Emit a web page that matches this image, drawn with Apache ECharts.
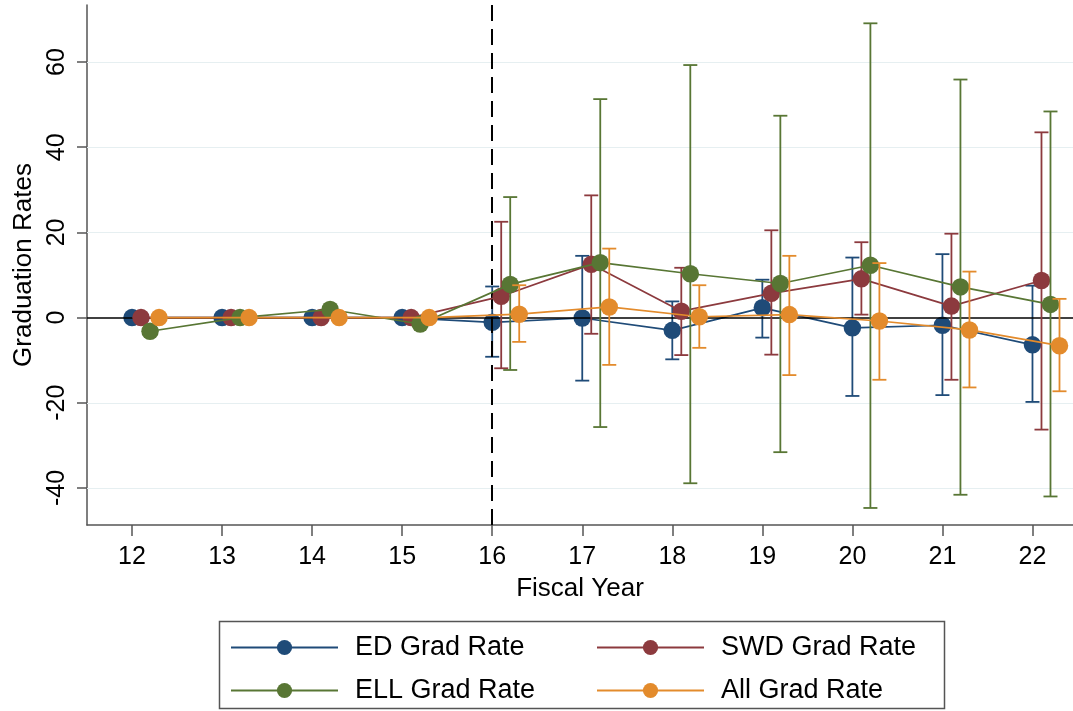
<!DOCTYPE html>
<html>
<head>
<meta charset="utf-8">
<script src="https://cdn.jsdelivr.net/npm/echarts@6/dist/echarts.min.js"></script>
<style>
html,body{margin:0;padding:0;background:#fff;}
#chart{width:1073px;height:711px;}
</style>
</head>
<body>
<div id="chart"></div>
<script>
// ---- data ----
const years = [12, 13, 14, 15, 16, 17, 18, 19, 20, 21, 22];
const yTicks = [-40, -20, 0, 20, 40, 60];
const treatYear = 16;

const edRate  = [0, 0, 0, 0, -1.1, -0.1, -3.0, 2.3, -2.4, -1.8, -6.4];
const edLo    = [null, null, null, null, -9.2, -14.8, -9.8, -4.7, -18.4, -18.2, -19.8];
const edHi    = [null, null, null, null, 7.3, 14.5, 3.8, 8.9, 14.1, 14.9, 7.5];

const swdRate = [0, 0, 0, 0, 5.0, 12.5, 1.5, 5.7, 9.1, 2.7, 8.7];
const swdLo   = [null, null, null, null, -11.9, -3.8, -8.8, -8.7, 0.7, -14.6, -26.3];
const swdHi   = [null, null, null, null, 22.5, 28.7, 11.7, 20.5, 17.7, 19.7, 43.5];

const ellRate = [-3.2, 0, 1.9, -1.5, 7.8, 12.9, 10.3, 8.0, 12.3, 7.2, 3.1];
const ellLo   = [null, null, null, null, -12.3, -25.7, -38.9, -31.6, -44.7, -41.6, -42.0];
const ellHi   = [null, null, null, null, 28.3, 51.3, 59.3, 47.4, 69.1, 55.9, 48.4];

const allRate = [0, 0, 0, 0, 0.8, 2.5, 0.2, 0.7, -0.8, -2.9, -6.6];
const allLo   = [null, null, null, null, -5.7, -11.1, -7.1, -13.5, -14.6, -16.4, -17.3];
const allHi   = [null, null, null, null, 7.6, 16.2, 7.6, 14.5, 12.8, 10.8, 4.4];

const seriesNames = ['ED Grad Rate', 'SWD Grad Rate', 'ELL Grad Rate', 'All Grad Rate'];
// ---- styling ----
const colors = ['#1f4b78', '#8c3a3e', '#587634', '#e38b2c'];
const dodge = [0, 0.1, 0.2, 0.3];
const FONT = "'Liberation Sans', Arial, Helvetica, sans-serif";

const groups = [
  [edRate, edLo, edHi],
  [swdRate, swdLo, swdHi],
  [ellRate, ellLo, ellHi],
  [allRate, allLo, allHi]
];

function errRenderer(color) {
  return function (params, api) {
    const x = api.value(0), lo = api.value(1), hi = api.value(2);
    const pLo = api.coord([x, lo]);
    const pHi = api.coord([x, hi]);
    const w = 7;
    const style = { stroke: color, lineWidth: 1.8, fill: null };
    return {
      type: 'group',
      children: [
        { type: 'line', shape: { x1: pLo[0], y1: pHi[1], x2: pLo[0], y2: pLo[1] }, style: style },
        { type: 'line', shape: { x1: pLo[0] - w, y1: pHi[1], x2: pLo[0] + w, y2: pHi[1] }, style: style },
        { type: 'line', shape: { x1: pLo[0] - w, y1: pLo[1], x2: pLo[0] + w, y2: pLo[1] }, style: style }
      ]
    };
  };
}

const series = [];
// reference lines (gridlines, zero line, treatment line)
series.push({
  type: 'line', name: '_ref', data: [], z: 1, silent: true,
  markLine: {
    silent: true, symbol: ['none', 'none'], label: { show: false },
    animation: false,
    data: yTicks.filter(v => v !== 0).map(v => ({ yAxis: v, lineStyle: { color: '#e6eff1', width: 1.2, type: 'solid' } }))
      .concat([{ yAxis: 0, lineStyle: { color: '#000', width: 1.6, type: 'solid' } }])
      .concat([{ xAxis: treatYear, lineStyle: { color: '#000', width: 2, type: [16, 8] } }])
  }
});

groups.forEach(function (g, i) {
  const rate = g[0], lo = g[1], hi = g[2];
  const errData = [];
  years.forEach(function (y, k) {
    if (lo[k] !== null && hi[k] !== null) errData.push([y + dodge[i], lo[k], hi[k]]);
  });
  series.push({
    type: 'custom', name: seriesNames[i] + ' CI', data: errData, z: 3 + i * 2,
    renderItem: errRenderer(colors[i]),
    encode: { x: 0, y: [1, 2] }, silent: true, animation: false
  });
  series.push({
    type: 'line', name: seriesNames[i], z: 4 + i * 2,
    data: years.map((y, k) => [y + dodge[i], rate[k]]),
    symbol: 'circle', symbolSize: 17.5, showSymbol: true,
    itemStyle: { color: colors[i] },
    lineStyle: { color: colors[i], width: 1.7 },
    animation: false
  });
});

const chart = echarts.init(document.getElementById('chart'));
chart.setOption({
  backgroundColor: '#fff',
  animation: false,
  textStyle: { fontFamily: FONT },
  grid: { left: 87, right: 0, top: 5, bottom: 186, containLabel: false, outerBoundsMode: 'none' },
  xAxis: {
    type: 'value', min: 11.5, max: 22.45,
    name: 'Fiscal Year', nameLocation: 'middle', nameGap: 51,
    nameTextStyle: { fontSize: 26, color: '#000', fontFamily: FONT },
    axisLine: { show: true, onZero: false, lineStyle: { color: '#555', width: 1.5 } },
    axisTick: { show: true, length: 11, customValues: years, lineStyle: { color: '#555', width: 1.5 } },
    axisLabel: { customValues: years, fontSize: 25, color: '#000', margin: 20, fontFamily: FONT },
    splitLine: { show: false }
  },
  yAxis: {
    type: 'value', min: -48.7, max: 73.4,
    name: 'Graduation Rates', nameLocation: 'middle', nameGap: 48,
    nameTextStyle: { fontSize: 26, color: '#000', fontFamily: FONT },
    axisLine: { show: true, onZero: false, lineStyle: { color: '#555', width: 1.5 } },
    axisTick: { show: true, length: 10, customValues: yTicks, lineStyle: { color: '#555', width: 1.5 } },
    axisLabel: { customValues: yTicks, fontSize: 25, color: '#000', rotate: 90, margin: 17, fontFamily: FONT },
    splitLine: { show: false }
  },
  legend: {
    data: seriesNames,
    orient: 'horizontal',
    left: 230, top: 634, width: 720,
    itemWidth: 107, itemHeight: 19, itemGap: 16,
    padding: 0,
    textStyle: { fontSize: 27, color: '#000', fontFamily: FONT, width: 225, lineHeight: 26, padding: [0, 0, 0, 12] },
    selectedMode: false
  },
  graphic: [{
    type: 'rect', z: -1, silent: true,
    shape: { x: 219.5, y: 621.5, width: 725, height: 87 },
    style: { fill: 'none', stroke: '#555', lineWidth: 1.5 }
  }],
  series: series
});
</script>
</body>
</html>
